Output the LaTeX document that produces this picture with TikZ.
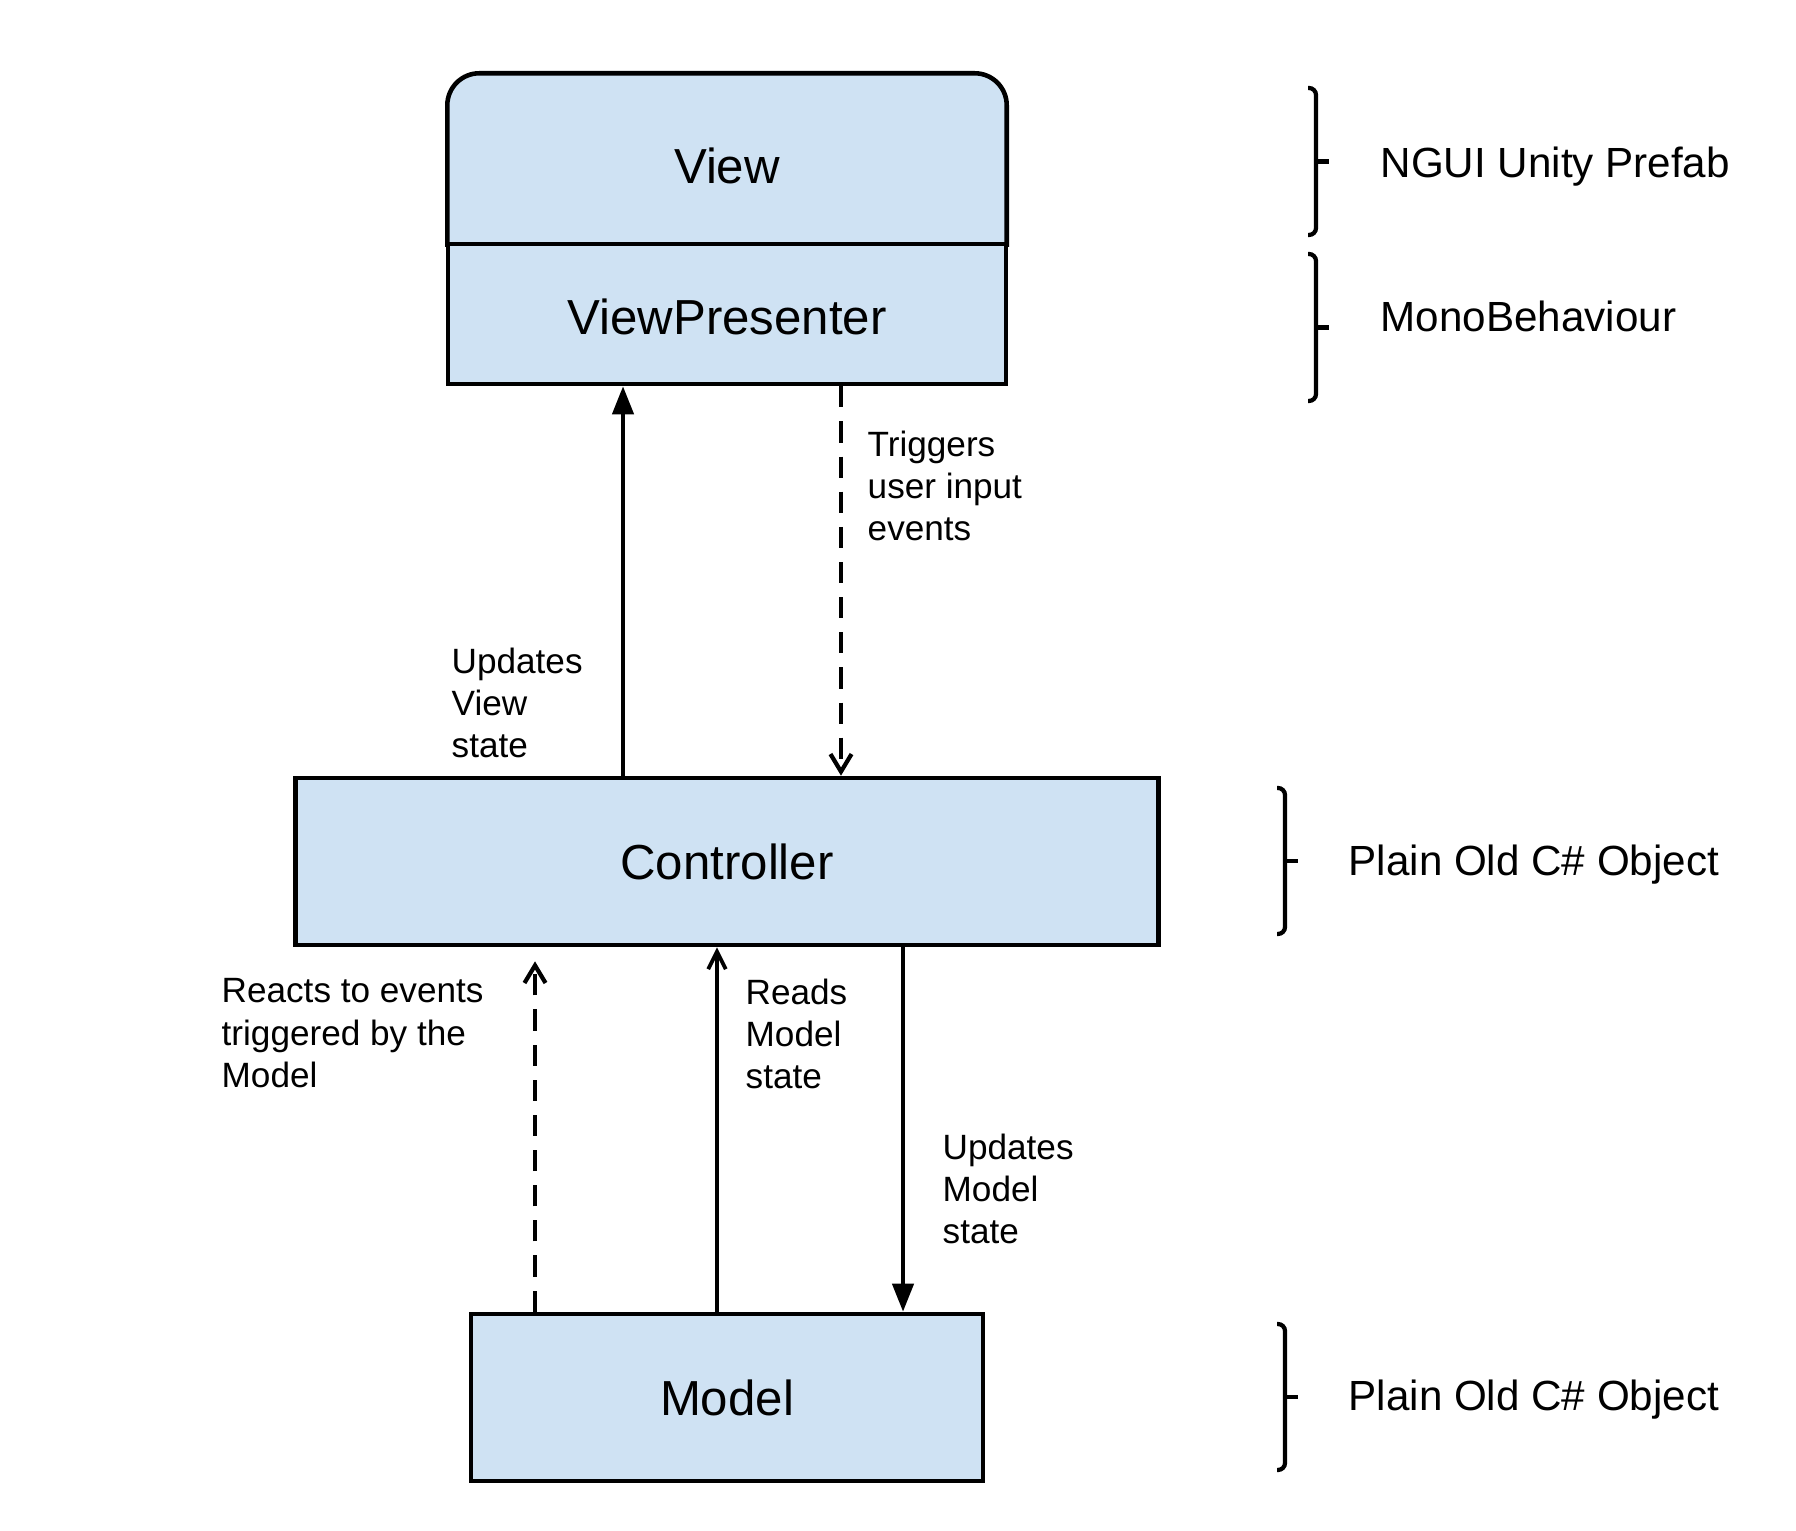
\documentclass[tikz,border=0pt]{standalone}
\usepackage{fontspec}
\setmainfont{Liberation Sans}
\usetikzlibrary{arrows.meta,backgrounds}
\definecolor{boxblue}{HTML}{CFE2F3}

\tikzset{
  block/.style={draw, line width=1.3pt, fill=boxblue, inner sep=0pt, font=\fontsize{14}{17}\selectfont},
  note/.style={align=left, inner sep=0pt, anchor=north west, font=\fontsize{10}{12}\selectfont},
  tag/.style={inner sep=0pt, anchor=base west, font=\fontsize{12}{14}\selectfont},
  flow/.style={line width=1.2pt, -{Triangle[length=8pt,width=6pt]}},
  readflow/.style={line width=1.1pt, -{Straight Barb[length=5pt,width=5pt]}},
  event/.style={line width=1.2pt, dash pattern=on 6pt off 4pt, -{Straight Barb[length=5pt,width=6pt]}},
  bracket/.style={line width=1.2pt, rounded corners=2pt},
}

\begin{document}
\begin{tikzpicture}
            \useasboundingbox (0,0) rectangle (17.96,15.30);

            % prefab: view on top of its presenter
            \node[block, minimum width=5.58cm, minimum height=1.40cm, text height=12pt] (presenter) at (7.27,12.16) {ViewPresenter};
            \node[inner sep=0pt, minimum width=5.58cm, minimum height=1.70cm, text height=14pt, font=\fontsize{14}{17}\selectfont] (view) at (7.27,13.71) {View};
            \begin{scope}[on background layer]
                \filldraw[fill=boxblue, line width=1.3pt] (view.south west) -- ([yshift=-3.2mm]view.north west)
                    arc[start angle=180, end angle=90, radius=3.2mm] -- ([xshift=-3.2mm]view.north east)
                    arc[start angle=90, end angle=0, radius=3.2mm] -- (view.south east) -- cycle;
            \end{scope}

            \node[block, minimum width=8.625cm, minimum height=1.67cm] (controller) at (7.27,6.685) {Controller};
            \node[block, minimum width=5.12cm, minimum height=1.67cm] (model) at (7.27,1.325) {Model};

            % controller <-> presenter
            \draw[flow] ([xshift=-1.04cm]controller.north) -- ([xshift=-1.04cm]controller.north |- presenter.south);
            \draw[event] ([xshift=1.14cm]presenter.south) -- ([xshift=1.14cm]presenter.south |- controller.north);

            % model <-> controller
            \draw[event, shorten >=4pt] ([xshift=-1.92cm]model.north) -- ([xshift=-1.92cm]model.north |- controller.south);
            \draw[readflow] ([xshift=-0.10cm]model.north) -- ([xshift=-0.10cm]model.north |- controller.south);
            \draw[flow] ([xshift=1.76cm]controller.south) -- ([xshift=1.76cm]controller.south |- model.north);

            \node[note] (triggers) at (8.67,11.00) {Triggers\\user input\\events};
            \node[note] (updview) at (4.51,8.83) {Updates\\View\\state};
            \node[note] (reacts) at (2.21,5.52) {Reacts to events\\triggered by the\\Model};
            \node[note] (reads) at (7.45,5.52) {Reads\\Model\\state};
            \node[note] (updmodel) at (9.42,3.97) {Updates\\Model\\state};

            % brackets on the right
            \draw[bracket] (13.08,14.42) -- (13.16,14.42) -- (13.16,12.95) -- (13.08,12.95);
            \draw[bracket] (13.16,13.685) -- (13.29,13.685);
            \node[tag] (prefab) at (13.80,13.52) {NGUI Unity Prefab};

            \draw[bracket] (13.08,12.76) -- (13.16,12.76) -- (13.16,11.29) -- (13.08,11.29);
            \draw[bracket] (13.16,12.025) -- (13.29,12.025);
            \node[tag] (mono) at (13.80,11.98) {MonoBehaviour};

            \draw[bracket] (12.77,7.42) -- (12.85,7.42) -- (12.85,5.96) -- (12.77,5.96);
            \draw[bracket] (12.85,6.69) -- (12.98,6.69);
            \node[tag] (pococtrl) at (13.48,6.54) {Plain Old C\# Object};

            \draw[bracket] (12.77,2.06) -- (12.85,2.06) -- (12.85,0.60) -- (12.77,0.60);
            \draw[bracket] (12.85,1.33) -- (12.98,1.33);
            \node[tag] (pocomodel) at (13.48,1.20) {Plain Old C\# Object};
\end{tikzpicture}
\end{document}
